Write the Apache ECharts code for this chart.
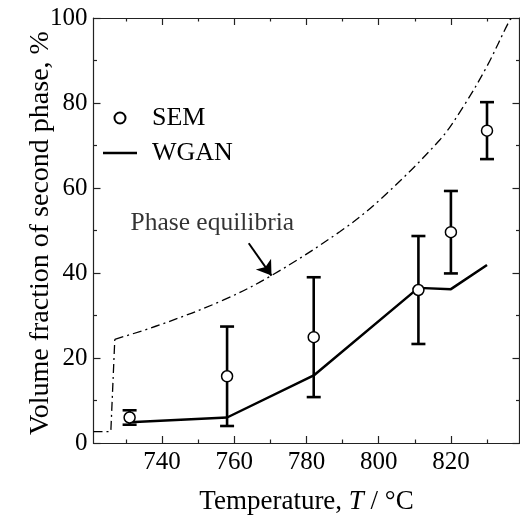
<!DOCTYPE html>
<html>
<head>
<meta charset="utf-8">
<script src="https://cdn.jsdelivr.net/npm/echarts@6/dist/echarts.min.js"></script>
<style>
html,body{margin:0;padding:0;background:#fff;}
#chart{width:520px;height:515px;}
</style>
</head>
<body>
<div id="chart"></div>
<script>
// ---- data ----
const xMin = 721, xMax = 839;
const xMajorTicks = [740, 760, 780, 800, 820];
const xMinorTicks = [730, 750, 770, 790, 810, 830];
const temps = [731, 758, 782, 811, 820, 830];
const semValues = [6.0, 15.7, 24.9, 36.0, 49.6, 73.5];
const semErrors = [1.7, 11.7, 14.1, 12.7, 9.7, 6.7];
const wganValues = [4.9, 6.0, 15.9, 36.5, 36.2, 41.9];
// phase-equilibria curve: vertical step at the left, then the smooth rising curve
const phaseStepTemps = [721, 725.8, 726.9];
const phaseStepValues = [2.7, 2.7, 24.4];
const phaseCurveTemps = [726.9, 739.4, 756.9, 770.3, 789.2, 800.3, 816.9, 823.4, 829.9, 836.3, 837];
const phaseCurveValues = [24.4, 27.8, 33.6, 39.4, 49.7, 57.2, 71.3, 79.1, 88.5, 99.5, 100];
const arrowTail = [764, 47];
const arrowTip = [770.3, 39.4];
const annotationAnchor = [753.9, 51.8];

const FONT = '"Liberation Serif", "Times New Roman", serif';
const AX = '#222';

const semData = temps.map((t, i) => [t, semValues[i]]);
const errData = temps.map((t, i) => [t, semValues[i] - semErrors[i], semValues[i] + semErrors[i]]);
const wganData = temps.map((t, i) => [t, wganValues[i]]);
const phaseStepData = phaseStepTemps.map((t, i) => [t, phaseStepValues[i]]);
const phaseCurveData = phaseCurveTemps.map((t, i) => [t, phaseCurveValues[i]]);

const chart = echarts.init(document.getElementById('chart'), null, {renderer: 'canvas'});

function xAxisBase(extra) {
  return Object.assign({
    type: 'value', min: xMin, max: xMax, gridIndex: 0,
    splitLine: {show: false},
    axisLine: {show: true, onZero: false, lineStyle: {color: AX, width: 1.2}},
    axisLabel: {show: false},
    axisTick: {show: false}
  }, extra);
}
function yAxisBase(extra) {
  return Object.assign({
    type: 'value', min: 0, max: 100, interval: 20, gridIndex: 0,
    splitLine: {show: false},
    axisLine: {show: true, onZero: false, lineStyle: {color: AX, width: 1.2}},
    axisLabel: {show: false},
    axisTick: {show: true, inside: true, length: 7, lineStyle: {color: AX, width: 1.2}},
    minorTick: {show: true, splitNumber: 2, length: 3.5, lineStyle: {color: AX, width: 1.2}}
  }, extra);
}

const phaseLine = {color: '#000', width: 1.3, type: [9, 4, 2, 4]};

const option = {
  animation: false,
  backgroundColor: '#fff',
  grid: {left: 93.5, top: 18, width: 426, height: 425, containLabel: false, outerBoundsMode: 'none'},
  legend: {
    orient: 'vertical', left: 103, top: 105, padding: 0,
    itemWidth: 34, itemHeight: 11, itemGap: 9,
    textStyle: {fontFamily: FONT, fontSize: 26, color: '#000', padding: [0, 0, 0, 10]},
    data: [
      {name: 'SEM'},
      {name: 'WGAN', icon: 'path://M0,0L34,0L34,2.5L0,2.5Z'}
    ]
  },
  xAxis: [
    xAxisBase({
      position: 'bottom',
      name: '{a|Temperature, }{i|T}{a| / °C}',
      nameLocation: 'middle', nameGap: 45, nameMoveOverlap: false,
      nameTextStyle: {
        fontFamily: FONT, fontSize: 27, color: '#000',
        rich: {a: {fontFamily: FONT, fontSize: 27, color: '#000'},
               i: {fontFamily: FONT, fontSize: 27, color: '#000', fontStyle: 'italic'}}
      },
      axisLabel: {show: true, customValues: xMajorTicks, fontFamily: FONT, fontSize: 25, color: '#000', margin: 7},
      axisTick: {show: true, inside: true, length: 7, customValues: xMajorTicks, lineStyle: {color: AX, width: 1.2}}
    }),
    xAxisBase({
      position: 'bottom',
      axisTick: {show: true, inside: true, length: 3.5, customValues: xMinorTicks, lineStyle: {color: AX, width: 1.2}}
    }),
    xAxisBase({
      position: 'top',
      axisTick: {show: true, inside: true, length: 7, customValues: xMajorTicks, lineStyle: {color: AX, width: 1.2}}
    }),
    xAxisBase({
      position: 'top',
      axisTick: {show: true, inside: true, length: 3.5, customValues: xMinorTicks, lineStyle: {color: AX, width: 1.2}}
    })
  ],
  yAxis: [
    yAxisBase({
      position: 'left',
      name: 'Volume fraction of second phase, %',
      nameLocation: 'middle', nameGap: 38.5, nameRotate: 90, nameMoveOverlap: false,
      nameTextStyle: {fontFamily: FONT, fontSize: 28, color: '#000', padding: [0, 5, 0, 0]},
      axisLabel: {show: true, fontFamily: FONT, fontSize: 25, color: '#000', margin: 6}
    }),
    yAxisBase({position: 'right'})
  ],
  series: [
    {
      name: 'Phase equilibria step', type: 'line', xAxisIndex: 0, yAxisIndex: 0,
      data: phaseStepData, symbol: 'none', smooth: false,
      lineStyle: phaseLine, silent: true, z: 2
    },
    {
      name: 'Phase equilibria', type: 'line', xAxisIndex: 0, yAxisIndex: 0,
      data: phaseCurveData, symbol: 'none', smooth: 0.35, clip: true,
      lineStyle: phaseLine, silent: true, z: 2
    },
    {
      name: 'arrow', type: 'lines', coordinateSystem: 'cartesian2d', xAxisIndex: 0, yAxisIndex: 0,
      data: [{coords: [arrowTail, arrowTip]}],
      symbol: ['none', 'arrow'], symbolSize: [0, 14],
      lineStyle: {color: '#000', width: 2, opacity: 1}, z: 3
    },
    {
      name: 'label', type: 'scatter', xAxisIndex: 0, yAxisIndex: 0,
      data: [annotationAnchor], symbolSize: 0,
      label: {show: true, position: [0, 0], align: 'center', verticalAlign: 'middle',
              formatter: 'Phase equilibria', fontFamily: FONT, fontSize: 25.5,
              color: '#000', textBorderWidth: 0},
      silent: true, z: 3
    },
    {
      name: 'WGAN', type: 'line', xAxisIndex: 0, yAxisIndex: 0,
      data: wganData, symbol: 'none', showSymbol: false,
      lineStyle: {color: '#000', width: 2.5},
      itemStyle: {color: '#000'}, z: 4
    },
    {
      name: 'errors', type: 'custom', xAxisIndex: 0, yAxisIndex: 0,
      data: errData, encode: {x: 0, y: [1, 2]},
      renderItem: function (params, api) {
        const x = api.value(0);
        const lo = api.coord([x, api.value(1)]);
        const hi = api.coord([x, api.value(2)]);
        const w = 7;
        const st = {stroke: '#000', lineWidth: 2.6};
        return {type: 'group', children: [
          {type: 'line', shape: {x1: lo[0], y1: lo[1], x2: hi[0], y2: hi[1]}, style: st},
          {type: 'line', shape: {x1: lo[0] - w, y1: lo[1], x2: lo[0] + w, y2: lo[1]}, style: st},
          {type: 'line', shape: {x1: hi[0] - w, y1: hi[1], x2: hi[0] + w, y2: hi[1]}, style: st}
        ]};
      },
      z: 5
    },
    {
      name: 'SEM', type: 'scatter', xAxisIndex: 0, yAxisIndex: 0,
      data: semData, symbol: 'circle', symbolSize: 11,
      itemStyle: {color: '#fff', borderColor: '#000', borderWidth: 1.5, opacity: 1}, z: 6
    }
  ]
};
chart.setOption(option);
</script>
</body>
</html>
